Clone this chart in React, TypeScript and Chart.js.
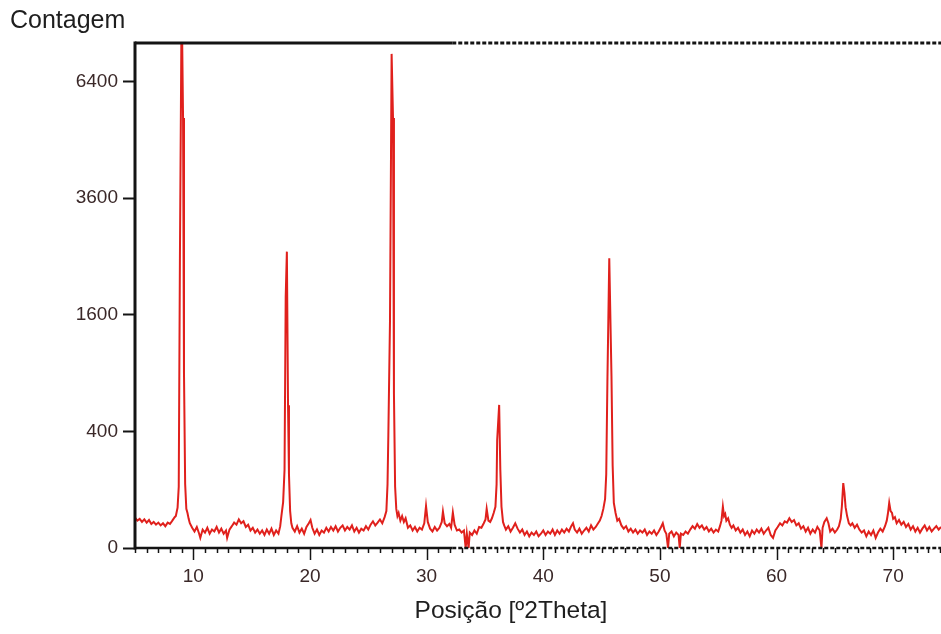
import React, { useEffect, useRef } from 'react';
import { Chart, LinearScale, registerables } from 'chart.js';

// ---- data: [2θ (degrees), counts] ----
const scan05to08: number[][] = [
  [5.0, 27], [5.2, 22], [5.4, 25], [5.6, 20], [5.8, 24], [6.0, 19], [6.2, 23], [6.4, 17],
  [6.6, 20], [6.8, 16], [7.0, 19], [7.2, 15], [7.4, 18], [7.6, 14], [7.8, 19], [8.0, 17],
  [8.2, 22], [8.4, 28],
];
const peak09: number[][] = [
  [8.5, 30], [8.65, 48], [8.75, 110], [8.85, 2440], [9.0, 9000], [9.12, 5440], [9.2, 900],
  [9.3, 120], [9.4, 45], [9.5, 36], [9.6, 25],
];
const scan10to17: number[][] = [
  [9.7, 18], [9.9, 12], [10.1, 8], [10.3, 13], [10.5, 6], [10.6, 3], [10.8, 10], [11.0, 7],
  [11.2, 12], [11.4, 6], [11.6, 10], [11.8, 8], [12.0, 13], [12.2, 7], [12.4, 11], [12.6, 6],
  [12.8, 9], [12.9, 3], [13.1, 10], [13.3, 14], [13.5, 19], [13.7, 16], [13.9, 24], [14.1, 18],
  [14.3, 21], [14.5, 13], [14.7, 16], [14.9, 9], [15.1, 12], [15.3, 7], [15.5, 10], [15.7, 6],
  [15.9, 9], [16.1, 5], [16.3, 10], [16.5, 6], [16.7, 11], [16.9, 5], [17.1, 9], [17.3, 6],
  [17.45, 14],
];
const peak18: number[][] = [
  [17.55, 30], [17.7, 62], [17.82, 180], [17.92, 1858], [18.02, 2583], [18.12, 600],
  [18.2, 160], [18.3, 40], [18.4, 18],
];
const scan18to26: number[][] = [
  [18.5, 12], [18.7, 8], [18.9, 14], [19.1, 7], [19.3, 11], [19.5, 6], [19.7, 13], [19.9, 18],
  [20.05, 23], [20.2, 12], [20.4, 6], [20.6, 10], [20.8, 5], [21.0, 9], [21.2, 7], [21.4, 12],
  [21.6, 8], [21.8, 13], [22.0, 9], [22.2, 14], [22.4, 8], [22.6, 12], [22.8, 15], [23.0, 9],
  [23.2, 13], [23.4, 10], [23.6, 15], [23.8, 8], [24.0, 12], [24.2, 7], [24.4, 11], [24.6, 9],
  [24.8, 14], [25.0, 10], [25.2, 16], [25.4, 21], [25.6, 15], [25.8, 19], [26.0, 24],
  [26.2, 18], [26.4, 28],
];
const peak27: number[][] = [
  [26.55, 40], [26.65, 120], [26.72, 376], [26.86, 1507], [27.0, 7180], [27.12, 5440],
  [27.2, 700], [27.3, 110], [27.4, 45], [27.5, 30],
];
const scan28to35: number[][] = [
  [27.6, 36], [27.75, 22], [27.9, 30], [28.05, 20], [28.2, 26], [28.4, 12], [28.6, 15],
  [28.8, 9], [29.0, 13], [29.2, 8], [29.4, 12], [29.6, 10], [29.8, 18], [29.95, 52],
  [30.1, 20], [30.3, 11], [30.5, 8], [30.7, 13], [30.9, 9], [31.1, 12], [31.3, 20],
  [31.4, 39], [31.55, 18], [31.75, 14], [31.95, 17], [32.1, 12], [32.25, 37], [32.4, 16],
  [32.6, 9], [32.8, 10], [33.0, 7], [33.2, 9], [33.35, 0], [33.45, 6], [33.6, 0], [33.7, 7],
  [33.9, 5], [34.1, 9], [34.3, 6], [34.5, 13], [34.7, 12], [34.9, 18], [35.05, 24],
  [35.15, 45], [35.3, 22], [35.45, 20], [35.6, 26], [35.75, 36],
];
const peak36: number[][] = [
  [35.9, 50], [36.0, 120], [36.05, 343], [36.22, 602], [36.32, 180], [36.42, 50], [36.55, 20],
];
const scan37to44: number[][] = [
  [36.65, 15], [36.8, 10], [37.0, 14], [37.2, 8], [37.4, 12], [37.6, 18], [37.8, 11], [38.0, 7],
  [38.2, 10], [38.4, 5], [38.6, 8], [38.8, 4], [39.0, 7], [39.2, 5], [39.4, 8], [39.6, 4],
  [39.8, 6], [40.0, 9], [40.2, 5], [40.4, 8], [40.6, 6], [40.8, 10], [41.0, 5], [41.2, 9],
  [41.4, 6], [41.6, 10], [41.8, 7], [42.0, 11], [42.2, 8], [42.4, 14], [42.55, 18], [42.7, 10],
  [42.9, 7], [43.1, 11], [43.3, 6], [43.5, 9], [43.7, 12], [43.9, 8], [44.1, 15], [44.3, 10],
  [44.5, 13], [44.7, 18],
];
const peak46: number[][] = [
  [44.85, 22], [45.0, 30], [45.15, 45], [45.3, 70], [45.4, 160], [45.5, 814], [45.66, 2469],
  [45.85, 863], [45.95, 200], [46.05, 60], [46.2, 36], [46.35, 22],
];
const scan47to55: number[][] = [
  [46.5, 25], [46.7, 15], [46.9, 11], [47.1, 14], [47.3, 8], [47.5, 11], [47.7, 7], [47.9, 10],
  [48.1, 6], [48.3, 9], [48.5, 7], [48.7, 10], [48.9, 5], [49.1, 8], [49.3, 6], [49.5, 9],
  [49.7, 5], [49.9, 8], [50.1, 13], [50.25, 18], [50.4, 9], [50.55, 6], [50.7, 0], [50.8, 6],
  [51.0, 8], [51.2, 4], [51.4, 7], [51.6, 5], [51.7, 0], [51.8, 6], [52.0, 5], [52.2, 8],
  [52.4, 6], [52.6, 10], [52.8, 14], [53.0, 11], [53.2, 17], [53.4, 12], [53.6, 15],
  [53.8, 10], [54.0, 13], [54.2, 8], [54.4, 11], [54.6, 7], [54.8, 10], [55.0, 8], [55.15, 14],
  [55.28, 22], [55.4, 50], [55.5, 30], [55.6, 34], [55.7, 22], [55.85, 26], [56.0, 16],
];
const scan56to65: number[][] = [
  [56.15, 12], [56.3, 15], [56.5, 9], [56.7, 12], [56.9, 7], [57.1, 10], [57.3, 5], [57.5, 8],
  [57.7, 4], [57.9, 9], [58.1, 6], [58.3, 10], [58.5, 7], [58.7, 11], [58.9, 6], [59.1, 9],
  [59.3, 12], [59.5, 5], [59.7, 3], [59.9, 9], [60.1, 13], [60.3, 18], [60.5, 15], [60.7, 21],
  [60.9, 19], [61.1, 26], [61.3, 20], [61.5, 23], [61.7, 15], [61.9, 18], [62.1, 11],
  [62.3, 14], [62.5, 8], [62.7, 12], [62.9, 6], [63.1, 10], [63.3, 7], [63.5, 13], [63.7, 9],
  [63.85, 0], [63.95, 12], [64.1, 20], [64.3, 26], [64.45, 18], [64.6, 8], [64.8, 11],
  [65.0, 7], [65.2, 10], [65.35, 14], [65.5, 25],
];
const scan66to74: number[][] = [
  [65.6, 50], [65.72, 124], [65.82, 90], [65.92, 49], [66.05, 30], [66.2, 18], [66.35, 15],
  [66.5, 18], [66.7, 12], [66.9, 16], [67.1, 10], [67.3, 7], [67.5, 9], [67.7, 4], [67.9, 8],
  [68.1, 5], [68.3, 9], [68.5, 3], [68.7, 7], [68.9, 11], [69.1, 8], [69.3, 14], [69.45, 22],
  [69.55, 35], [69.66, 60], [69.78, 40], [69.9, 36], [70.0, 25], [70.15, 28], [70.3, 18],
  [70.5, 23], [70.7, 16], [70.9, 20], [71.1, 13], [71.3, 17], [71.5, 10], [71.7, 14],
  [71.9, 8], [72.1, 12], [72.3, 7], [72.5, 11], [72.7, 15], [72.9, 9], [73.1, 13], [73.3, 8],
  [73.5, 11], [73.7, 14], [73.9, 10], [74.1, 13],
];

const X_MIN = 5;
const X_MAX = 74.1;
const X_MAJOR_TICKS = [10, 20, 30, 40, 50, 60, 70];
const Y_TICKS = [0, 400, 1600, 3600, 6400];
const Y_MAX = 7500;
const X_TITLE = 'Posição [º2Theta]';
const Y_TITLE = 'Contagem';

// square-root intensity scale (as in the original diffractogram)
class SqrtScale extends LinearScale {
  static id = 'sqrt';
  static defaults = {};
  buildTicks() {
    return Y_TICKS.map((v) => ({ value: v }));
  }
  getPixelForValue(value: number) {
    const s0 = Math.sqrt(Math.max(0, this.min));
    const s1 = Math.sqrt(Math.max(0, this.max));
    const s = Math.sqrt(Math.max(0, value));
    return this.getPixelForDecimal((s - s0) / (s1 - s0));
  }
  getValueForPixel(pixel: number) {
    const s0 = Math.sqrt(Math.max(0, this.min));
    const s1 = Math.sqrt(Math.max(0, this.max));
    const s = s0 + this.getDecimalForPixel(pixel) * (s1 - s0);
    return s * s;
  }
}

Chart.register(...registerables, SqrtScale);

const FONT = '"Liberation Sans", Arial, sans-serif';
const AXIS_COLOR = '#141414';

const framePlugin = {
  id: 'xrdFrame',
  afterDatasetsDraw(chart: any) {
    const { ctx, chartArea: a } = chart;
    const xs = chart.scales.x;
    const split = xs.getPixelForValue(32.2);
    ctx.save();
    ctx.strokeStyle = AXIS_COLOR;
    // x tick marks (1° minor, 10° major)
    ctx.lineWidth = 1.5;
    for (let v = Math.ceil(X_MIN); v <= X_MAX; v++) {
      const px = Math.round(xs.getPixelForValue(v)) + 0.5;
      const len = v % 10 === 0 ? 12 : 5;
      ctx.beginPath();
      ctx.moveTo(px, a.bottom);
      ctx.lineTo(px, a.bottom + len);
      ctx.stroke();
    }
    // left axis
    ctx.lineWidth = 3;
    ctx.beginPath();
    ctx.moveTo(a.left, a.top - 1.5);
    ctx.lineTo(a.left, a.bottom + 1.5);
    ctx.stroke();
    // top border: solid then dashed
    ctx.beginPath();
    ctx.moveTo(a.left, a.top);
    ctx.lineTo(split, a.top);
    ctx.stroke();
    // bottom axis: solid then dashed
    ctx.lineWidth = 2.5;
    ctx.beginPath();
    ctx.moveTo(a.left, a.bottom);
    ctx.lineTo(split, a.bottom);
    ctx.stroke();
    ctx.setLineDash([4, 2]);
    ctx.lineWidth = 3;
    ctx.beginPath();
    ctx.moveTo(split, a.top);
    ctx.lineTo(a.right, a.top);
    ctx.stroke();
    ctx.lineWidth = 2.5;
    ctx.beginPath();
    ctx.moveTo(split, a.bottom);
    ctx.lineTo(a.right, a.bottom);
    ctx.stroke();
    ctx.restore();
  },
  afterDraw(chart: any) {
    const { ctx } = chart;
    ctx.save();
    ctx.fillStyle = '#1e1e1e';
    ctx.textBaseline = 'alphabetic';
    ctx.font = `25px ${FONT}`;
    ctx.textAlign = 'left';
    ctx.fillText(Y_TITLE, 10, 28);
    ctx.font = `24.5px ${FONT}`;
    ctx.textAlign = 'center';
    ctx.fillText(X_TITLE, 511, 618);
    ctx.restore();
  },
};

export default function App() {
  const canvasRef = useRef<HTMLCanvasElement | null>(null);

  useEffect(() => {
    document.body.style.margin = '0';
    const canvas = canvasRef.current;
    if (!canvas) return;
    const points = [
      ...scan05to08, ...peak09, ...scan10to17, ...peak18, ...scan18to26, ...peak27,
      ...scan28to35, ...peak36, ...scan37to44, ...peak46, ...scan47to55, ...scan56to65,
      ...scan66to74,
    ].map(([x, y]) => ({ x, y }));

    const chart = new Chart(canvas, {
      type: 'line',
      data: {
        datasets: [
          {
            data: points,
            borderColor: '#e0201c',
            borderWidth: 2,
            pointRadius: 0,
            tension: 0,
            fill: false,
          },
        ],
      },
      options: {
        animation: false,
        responsive: false,
        events: [],
        layout: { padding: { top: 43, left: 0, right: 0, bottom: 0 } },
        plugins: { legend: { display: false }, tooltip: { enabled: false }, title: { display: false } },
        scales: {
          x: {
            type: 'linear',
            min: X_MIN,
            max: X_MAX,
            border: { display: false },
            grid: { display: false, drawTicks: false },
            afterBuildTicks: (s: any) => {
              s.ticks = X_MAJOR_TICKS.map((v) => ({ value: v }));
            },
            afterFit: (s: any) => {
              s.height = 86;
            },
            ticks: {
              autoSkip: false,
              maxRotation: 0,
              padding: 17,
              color: '#3a2828',
              font: { family: FONT, size: 19 },
              callback: (v: any) => String(v),
            },
          },
          y: {
            type: 'sqrt' as any,
            min: 0,
            max: Y_MAX,
            border: { display: false },
            grid: {
              display: true,
              drawOnChartArea: false,
              drawTicks: true,
              tickLength: 12,
              tickColor: AXIS_COLOR,
              tickWidth: 2,
            },
            afterFit: (s: any) => {
              s.width = 135;
            },
            ticks: {
              padding: 5,
              color: '#3a2828',
              font: { family: FONT, size: 19 },
              callback: (v: any) => String(v),
            },
          },
        },
      } as any,
      plugins: [framePlugin],
    });
    return () => chart.destroy();
  }, []);

  return (
    <div style={{ position: 'absolute', left: 0, top: 0, width: 941, height: 634, background: '#fff' }}>
      <canvas ref={canvasRef} width={941} height={634} style={{ width: 941, height: 634, display: 'block' }} />
    </div>
  );
}
